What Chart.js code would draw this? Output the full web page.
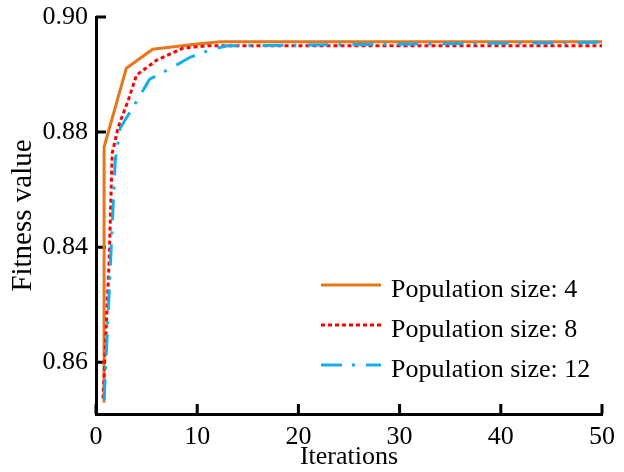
<!DOCTYPE html>
<html>
<head>
<meta charset="utf-8">
<title>Fitness value vs iterations</title>
<script src="https://cdn.jsdelivr.net/npm/chart.js@4/dist/chart.umd.min.js"></script>
<style>
  html, body { margin: 0; padding: 0; background: #fff; }
</style>
</head>
<body>
<canvas id="fitnessChart" width="624" height="472"></canvas>
<script>
// convergence curves, one per population size
const iterSize4 = [0.8, 0.8, 3.0, 5.6, 10, 12.3, 50];
const fitSize4 = [0.8330, 0.8774, 0.8911, 0.8944, 0.8953, 0.8957, 0.8957];

const iterSize8 = [0.7, 1.3, 1.6, 2.2, 3.2, 4.0, 6.0, 8.6, 11.1, 50];
const fitSize8 = [0.8337, 0.8577, 0.8763, 0.8809, 0.8856, 0.8899, 0.8925, 0.8946, 0.8950, 0.8950];

const iterSize12 = [0.8, 1.4, 1.9, 2.4, 4.1, 5.3, 7.3, 9.3, 11.5, 13.0, 50];
const fitSize12 = [0.8334, 0.8560, 0.8751, 0.8807, 0.8856, 0.8892, 0.8910, 0.8930, 0.8944, 0.8950, 0.8956];

const seriesLabels = ['Population size: 4', 'Population size: 8', 'Population size: 12'];

// y ticks and the text printed next to them
const yTickValues = [0.84, 0.86, 0.88, 0.90];
const yTickText = ['0.86', '0.84', '0.88', '0.90'];

const toPoints = (xs, ys) => xs.map((x, i) => ({ x: x, y: ys[i] }));

Chart.defaults.font.family = '"Liberation Serif", "Times New Roman", serif';
Chart.defaults.font.size = 26;
Chart.defaults.color = '#000';

// short tick marks pointing into the plot
const inwardTicks = {
    id: 'inwardTicks',
    beforeDatasetsDraw(chart) {
        const { ctx, chartArea, scales } = chart;
        ctx.save();
        ctx.strokeStyle = '#000';
        ctx.lineWidth = 3;
        ctx.beginPath();
        scales.x.ticks.forEach(t => {
            const px = scales.x.getPixelForValue(t.value);
            ctx.moveTo(px, chartArea.bottom);
            ctx.lineTo(px, chartArea.bottom - 10);
        });
        scales.y.ticks.forEach(t => {
            const py = scales.y.getPixelForValue(t.value);
            ctx.moveTo(chartArea.left, py);
            ctx.lineTo(chartArea.left + 10, py);
        });
        ctx.stroke();
        ctx.restore();
    }
};

// legend box sitting inside the lower right of the plot
const insideLegend = {
    id: 'insideLegend',
    afterDraw(chart) {
        const { ctx, chartArea } = chart;
        const x0 = chartArea.left + 225;
        const y0 = chartArea.top + 268;
        ctx.save();
        ctx.font = '26px "Liberation Serif", "Times New Roman", serif';
        ctx.fillStyle = '#000';
        ctx.textBaseline = 'alphabetic';
        chart.data.datasets.forEach((ds, i) => {
            const y = y0 + i * 40;
            ctx.strokeStyle = ds.borderColor;
            ctx.lineWidth = ds.borderWidth;
            ctx.setLineDash(ds.borderDash || []);
            ctx.beginPath();
            ctx.moveTo(x0, y);
            ctx.lineTo(x0 + 60, y);
            ctx.stroke();
            ctx.setLineDash([]);
            ctx.fillText(ds.label, x0 + 70, y + 12);
        });
        ctx.restore();
    }
};

new Chart(document.getElementById('fitnessChart'), {
    type: 'line',
    data: {
        datasets: [
            {
                label: seriesLabels[0],
                data: toPoints(iterSize4, fitSize4),
                borderColor: '#E8761B',
                borderWidth: 3,
                order: 3
            },
            {
                label: seriesLabels[1],
                data: toPoints(iterSize8, fitSize8),
                borderColor: '#FF0000',
                borderWidth: 3,
                borderDash: [4, 3],
                order: 2
            },
            {
                label: seriesLabels[2],
                data: toPoints(iterSize12, fitSize12),
                borderColor: '#18ADEA',
                borderWidth: 3,
                borderDash: [21, 10, 3, 11],
                order: 1
            }
        ]
    },
    options: {
        responsive: false,
        animation: false,
        layout: { padding: { left: 0, right: 22, top: 17, bottom: 0 } },
        elements: {
            point: { radius: 0 },
            line: { tension: 0, fill: false }
        },
        plugins: {
            legend: { display: false },
            tooltip: { enabled: false }
        },
        scales: {
            x: {
                type: 'linear',
                min: 0,
                max: 50,
                grid: { display: false, drawTicks: false },
                border: { display: true, color: '#000', width: 3 },
                ticks: { stepSize: 10, padding: 8 },
                title: { display: true, text: 'Iterations', padding: { top: 0, bottom: -1 } },
                afterFit: s => { s.height = 58; }
            },
            y: {
                min: 0.831,
                max: 0.90,
                grid: { display: false, drawTicks: false },
                border: { display: true, color: '#000', width: 3 },
                ticks: {
                    padding: 8,
                    callback: v => {
                        const k = yTickValues.findIndex(t => Math.abs(t - v) < 1e-6);
                        return k < 0 ? '' : yTickText[k];
                    }
                },
                afterBuildTicks: s => { s.ticks = yTickValues.map(v => ({ value: v })); },
                title: { display: true, text: 'Fitness value', font: { size: 29 }, padding: { top: 6, bottom: 0 } },
                afterFit: s => {
                    s.width = 96;
                    s.paddingTop = 0;
                    s.paddingBottom = 0;
                }
            }
        }
    },
    plugins: [inwardTicks, insideLegend]
});
</script>
</body>
</html>
